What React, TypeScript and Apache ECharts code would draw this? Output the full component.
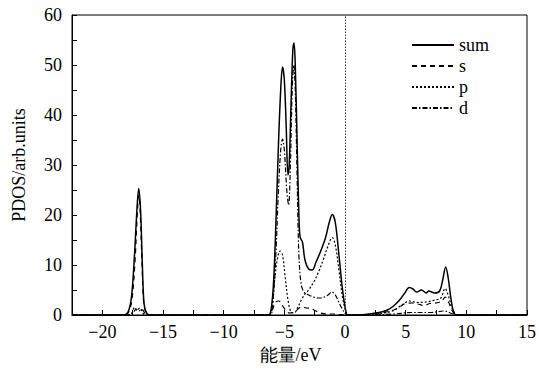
import React, { useEffect, useRef } from "react";
import * as echarts from "echarts";

// PDOS data: [energy (eV), PDOS]
const sumData: number[][] = [
  [-22.5, 0], [-18.3, 0], [-17.9, 0.5], [-17.6, 3.6], [-17.35, 12], [-17.15, 21], [-17.0, 25.3],
  [-16.85, 21], [-16.7, 10], [-16.55, 2], [-16.3, 0.2], [-16.0, 0],
  [-7.0, 0], [-6.3, 0], [-6.1, 1], [-5.9, 6], [-5.7, 18], [-5.5, 33], [-5.3, 45], [-5.15, 49.6],
  [-5.0, 47], [-4.85, 38], [-4.7, 28], [-4.6, 30], [-4.45, 42], [-4.3, 53], [-4.2, 54.4],
  [-4.1, 50], [-3.95, 35], [-3.8, 20], [-3.7, 15.6], [-3.5, 14.5], [-3.3, 11], [-3.0, 9.2],
  [-2.7, 9], [-2.4, 10.5], [-2.0, 12.8], [-1.6, 15.5], [-1.3, 18.5], [-1.05, 20.1], [-0.8, 18.5],
  [-0.5, 12], [-0.2, 5], [0.05, 1], [0.2, 0], [1.0, 0], [2.0, 0.2], [3.0, 0.6], [3.5, 1],
  [4.0, 1.8], [4.5, 3], [4.9, 4.3], [5.3, 5.5], [5.6, 5.2], [5.9, 4.6], [6.3, 5.0], [6.7, 4.4],
  [6.9, 4.8], [7.4, 4.4], [7.8, 4.8], [8.05, 7], [8.3, 9.6], [8.5, 7.5], [8.75, 3], [9.0, 0.3],
  [9.3, 0], [15, 0],
];

const sData: number[][] = [
  [-22.5, 0], [-18.2, 0], [-17.85, 0.5], [-17.55, 3.2], [-17.3, 11], [-17.12, 20], [-17.0, 24],
  [-16.87, 20], [-16.72, 9.5], [-16.57, 2], [-16.3, 0.2], [-16.0, 0],
  [-6.5, 0], [-6.3, 0], [-6.0, 1], [-5.7, 2.6], [-5.45, 2.8], [-5.2, 2], [-4.9, 1], [-4.6, 0.4],
  [-4.3, 0.5], [-4.0, 0.9], [-3.6, 1.6], [-3.2, 1.4], [-2.8, 1.3], [-2.4, 0.8], [-2.0, 0.4],
  [-1.5, 0.2], [-1.0, 0.2], [-0.5, 0.1], [0, 0], [1.0, 0], [2.0, 0.1], [3.0, 0.4], [4.0, 1],
  [4.5, 1.6], [5.0, 2.3], [5.5, 2.4], [6.0, 2.2], [6.5, 1.9], [7.0, 2.3], [7.5, 2.4], [8.0, 2.8],
  [8.25, 3.6], [8.5, 2.8], [8.8, 1], [9.1, 0.1], [9.4, 0], [15, 0],
];

const pData: number[][] = [
  [-22.5, 0], [-18.0, 0], [-17.6, 0.3], [-17.35, 1.5], [-17.15, 0.9], [-16.9, 1.4], [-16.6, 0.2],
  [-16.3, 0], [-6.3, 0], [-6.0, 2], [-5.8, 7], [-5.55, 11.5], [-5.35, 12.8], [-5.15, 12],
  [-4.95, 8], [-4.7, 3], [-4.45, 0.6], [-4.2, 0.4], [-3.9, 1.5], [-3.6, 3], [-3.3, 4.2],
  [-3.0, 5], [-2.6, 6.5], [-2.2, 8.5], [-1.8, 11], [-1.4, 13.8], [-1.05, 15.5], [-0.8, 14],
  [-0.5, 9], [-0.2, 3.5], [0.1, 0.5], [0.3, 0], [2.0, 0], [3.0, 0.3], [4.0, 0.9], [4.8, 2.2],
  [5.3, 2.8], [6.0, 2.5], [6.7, 2.6], [7.4, 3], [7.9, 3.4], [8.25, 5.3], [8.5, 4], [8.8, 1.5],
  [9.1, 0.2], [9.4, 0], [15, 0],
];

const dData: number[][] = [
  [-22.5, 0], [-18.0, 0], [-17.5, 0.4], [-17.2, 1.2], [-17.0, 0.8], [-16.75, 1.1], [-16.4, 0.1],
  [-16.2, 0], [-6.2, 0], [-5.9, 4], [-5.7, 12], [-5.5, 24], [-5.3, 33], [-5.15, 35.2], [-5.0, 33],
  [-4.8, 25], [-4.65, 22], [-4.5, 30], [-4.35, 45], [-4.22, 50], [-4.1, 45], [-3.95, 28],
  [-3.8, 12], [-3.6, 6], [-3.35, 4.5], [-3.0, 4], [-2.6, 3.6], [-2.2, 3.4], [-1.8, 3.5],
  [-1.4, 4], [-1.1, 4.6], [-0.8, 4], [-0.4, 2], [0, 0.3], [0.2, 0], [2.0, 0], [4.0, 0.2],
  [5.5, 0.5], [7.0, 0.5], [8.2, 0.8], [8.8, 0.3], [9.2, 0], [15, 0],
];

const seriesNames = ["sum", "s", "p", "d"];
const xLabelValues = [-20, -15, -10, -5, 0, 5, 10, 15];
const yLabelValues = [0, 10, 20, 30, 40, 50, 60];
const xAxisTitle = "能量/eV";
const yAxisTitle = "PDOS/arb.units";

const FONT = "Liberation Serif";

export default function App() {
  const ref = useRef<HTMLDivElement>(null);
  useEffect(() => {
    if (!ref.current) return;
    document.body.style.margin = "0";
    const chart = echarts.init(ref.current, undefined, { renderer: "svg" });
    const fmtNum = (v: number) => (v < 0 ? "\u2212" + Math.abs(v) : String(v));
    const lineSeries = (name: string, data: number[][], width: number, type: any, z: number) => ({
      name,
      type: "line",
      data,
      smooth: 0.35,
      symbol: "none",
      showSymbol: false,
      z,
      lineStyle: { color: "#000", width, type },
      itemStyle: { color: "#000" },
    });
    chart.setOption({
      animation: false,
      backgroundColor: "#fff",
      grid: {
        left: 72,
        right: 12,
        top: 15,
        bottom: 57,
        show: true,
        borderColor: "#000",
        borderWidth: 1,
      },
      legend: {
        data: seriesNames,
        orient: "vertical",
        left: 406,
        top: 31,
        itemWidth: 42,
        itemHeight: 12,
        itemGap: 3,
        itemStyle: { opacity: 0, borderWidth: 0 },
        textStyle: { fontFamily: FONT, fontSize: 18, color: "#000" },
      },
      xAxis: {
        type: "value",
        min: -22.5,
        max: 15,
        interval: 2.5,
        name: xAxisTitle,
        nameLocation: "middle",
        nameGap: 30,
        nameTextStyle: { fontFamily: FONT, fontSize: 18, color: "#000", padding: [0, 18, 0, 0] },
        axisLine: { onZero: false, lineStyle: { color: "#000", width: 1 } },
        axisTick: { inside: true, length: 5, lineStyle: { color: "#000" } },
        axisLabel: {
          fontFamily: FONT,
          fontSize: 18,
          color: "#000",
          margin: 8,
          formatter: (v: number) => (xLabelValues.includes(v) ? fmtNum(v) : ""),
        },
        splitLine: { show: false },
      },
      yAxis: {
        type: "value",
        min: 0,
        max: 60,
        interval: 5,
        name: yAxisTitle,
        nameLocation: "middle",
        nameGap: 44,
        nameTextStyle: { fontFamily: FONT, fontSize: 18, color: "#000" },
        axisLine: { show: true, onZero: false, lineStyle: { color: "#000", width: 1 } },
        axisTick: { show: true, inside: true, length: 5, lineStyle: { color: "#000" } },
        axisLabel: {
          fontFamily: FONT,
          fontSize: 18,
          color: "#000",
          margin: 10,
          formatter: (v: number) => (yLabelValues.includes(v) ? fmtNum(v) : ""),
        },
        splitLine: { show: false },
      },
      series: [
        lineSeries("s", sData, 1.2, [5, 4], 2),
        lineSeries("p", pData, 1.2, [2, 2], 2),
        lineSeries("d", dData, 1.2, [5, 2, 1.5, 2], 2),
        {
          ...lineSeries("sum", sumData, 1.5, "solid", 3),
          markLine: {
            silent: true,
            symbol: "none",
            label: { show: false },
            lineStyle: { color: "#333", type: [1.5, 1.5], width: 1 },
            data: [[{ coord: [0, 0] }, { coord: [0, 60] }]],
          },
        },
      ],
    });
    return () => chart.dispose();
  }, []);
  return <div ref={ref} style={{ width: 539, height: 372 }} />;
}
